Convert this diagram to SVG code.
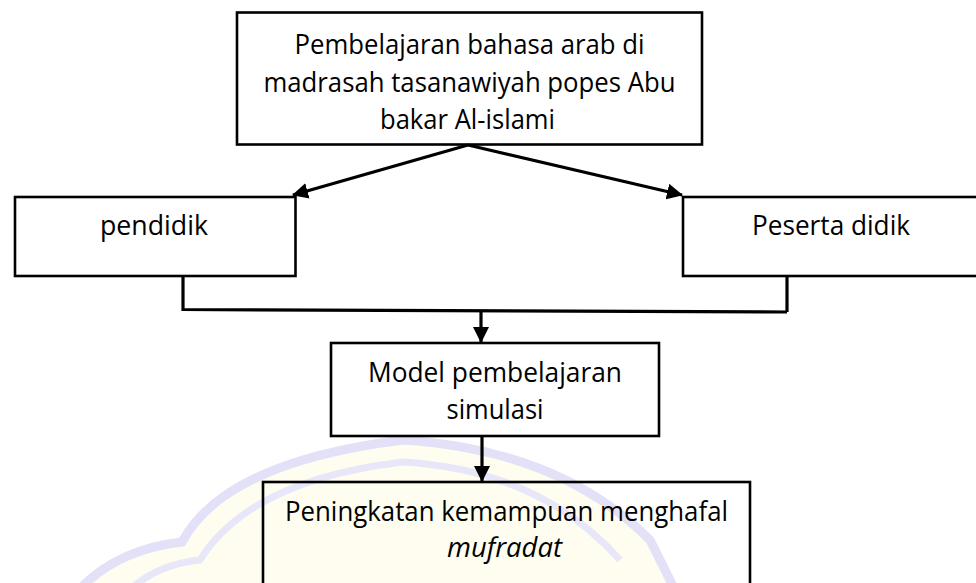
<svg xmlns="http://www.w3.org/2000/svg" width="976" height="583" viewBox="0 0 976 583">
<style>
.box{fill:none;stroke:#000;stroke-width:2.6}
.bg{fill:#fff}
.t{font-family:"Open Sans","Noto Sans",sans-serif;font-size:27.5px;fill:#000;text-anchor:middle}
.it{font-style:italic}
.c{fill:none;stroke:#000;stroke-width:3.2}
.wm{fill:#fefdef;stroke:#e2e1f7;stroke-width:9}
</style>
<defs>
<marker id="ah" viewBox="0 0 16 16" markerWidth="16" markerHeight="16" refX="15" refY="8" orient="auto" markerUnits="userSpaceOnUse">
<path d="M0,0 L16,8 L0,16 z" fill="#000"/>
</marker>
</defs>
<rect width="976" height="583" fill="#fff"/>
<g id="watermark">
<path class="wm" d="M70,600 Q110,550 182,542 Q225,462 403,440 Q560,450 650,540 L680,600 Z"/>
<path d="M120,600 Q150,565 200,560 Q250,480 403,462 Q540,470 620,560" fill="none" stroke="#e8e7f9" stroke-width="7"/>
</g>
<g id="connectors">
<path class="c" d="M468,145 L293,195" marker-end="url(#ah)"/>
<path class="c" d="M468,145 L682,195" marker-end="url(#ah)"/>
<path class="c" d="M183,276 L183,309.5 L787,312 M787,276 L787,312"/>
<path class="c" d="M481,310.5 L481,342" marker-end="url(#ah)"/>
<path class="c" d="M482,436 L482,481" marker-end="url(#ah)"/>
</g>
<g id="node-top">
<rect class="box" x="237" y="12.5" width="465" height="132"/>
<text class="t" x="469.5" y="54" textLength="350" lengthAdjust="spacingAndGlyphs">Pembelajaran bahasa arab di</text>
<text class="t" x="469.5" y="91.5" textLength="412" lengthAdjust="spacingAndGlyphs">madrasah tasanawiyah popes Abu</text>
<text class="t" x="467.5" y="129" textLength="175" lengthAdjust="spacingAndGlyphs">bakar Al-islami</text>
</g>
<g id="node-pendidik">
<rect class="box" x="15" y="197" width="280.5" height="79"/>
<text class="t" x="154" y="235" textLength="108" lengthAdjust="spacingAndGlyphs">pendidik</text>
</g>
<g id="node-peserta">
<rect class="box" x="683" y="197" width="300" height="79"/>
<text class="t" x="831" y="235" textLength="158" lengthAdjust="spacingAndGlyphs">Peserta didik</text>
</g>
<g id="node-model">
<rect class="box bg" x="331" y="343" width="328" height="93"/>
<text class="t" x="495" y="382" textLength="254" lengthAdjust="spacingAndGlyphs">Model pembelajaran</text>
<text class="t" x="495" y="419" textLength="97" lengthAdjust="spacingAndGlyphs">simulasi</text>
</g>
<g id="node-peningkatan">
<rect class="box" x="263" y="482" width="487" height="120"/>
<text class="t" x="506.5" y="521" textLength="443" lengthAdjust="spacingAndGlyphs">Peningkatan kemampuan menghafal</text>
<text class="t it" x="504.5" y="557" textLength="115" lengthAdjust="spacingAndGlyphs">mufradat</text>
</g>
</svg>
